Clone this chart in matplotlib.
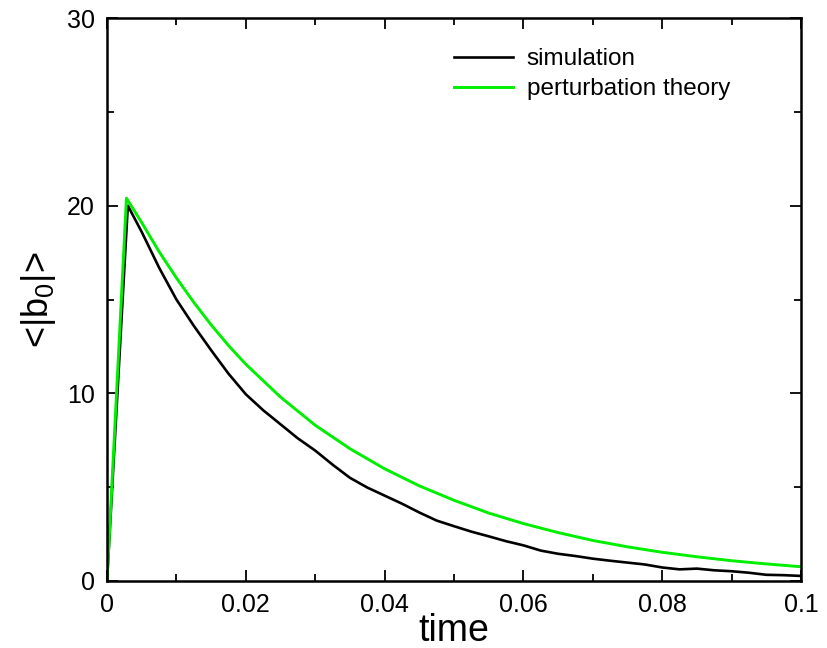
import matplotlib
matplotlib.use('Agg')
import matplotlib.pyplot as plt
from matplotlib.ticker import MultipleLocator

plt.rcParams['font.family'] = ['Liberation Sans', 'DejaVu Sans']
plt.rcParams['mathtext.fontset'] = 'custom'
plt.rcParams['mathtext.rm'] = 'Liberation Sans'
plt.rcParams['mathtext.it'] = 'Liberation Sans'

# simulation curve
t_sim = [0, 0.003, 0.005, 0.0075, 0.01, 0.0125, 0.015, 0.0175, 0.02, 0.0225,
         0.025, 0.0275, 0.03, 0.0325, 0.035, 0.0375, 0.04, 0.0425, 0.045, 0.0475,
         0.05, 0.0525, 0.055, 0.0575, 0.06, 0.0625, 0.065, 0.0675, 0.07, 0.0725,
         0.075, 0.0775, 0.08, 0.0825, 0.085, 0.0875, 0.09, 0.0925, 0.095, 0.0975, 0.1]
b_sim = [0, 20.0, 18.6, 16.7, 15.0, 13.6, 12.3, 11.05, 9.95, 9.1,
         8.35, 7.6, 6.95, 6.2, 5.5, 4.98, 4.55, 4.12, 3.65, 3.22,
         2.92, 2.63, 2.38, 2.12, 1.9, 1.62, 1.45, 1.33, 1.19, 1.08,
         0.98, 0.88, 0.72, 0.62, 0.66, 0.57, 0.52, 0.44, 0.33, 0.31, 0.27]

# perturbation theory curve
t_pt = [0, 0.0028, 0.005, 0.0075, 0.01, 0.0125, 0.015, 0.0175, 0.02, 0.025,
        0.03, 0.035, 0.04, 0.045, 0.05, 0.055, 0.06, 0.065, 0.07, 0.075,
        0.08, 0.085, 0.09, 0.095, 0.1]
b_pt = [0, 20.4, 19.1, 17.55, 16.15, 14.85, 13.65, 12.55, 11.55, 9.8,
        8.3, 7.05, 5.98, 5.07, 4.3, 3.62, 3.06, 2.58, 2.16, 1.82,
        1.53, 1.29, 1.08, 0.91, 0.76]

fig = plt.figure(figsize=(8.27, 6.48), dpi=100)
ax = fig.add_axes([0.1294, 0.1034, 0.8392, 0.8688])

ax.plot(t_sim, b_sim, color='black', lw=1.9, label='simulation')
ax.plot(t_pt, b_pt, color='#00ee00', lw=2.1, label='perturbation theory')

ax.set_xlim(0, 0.1)
ax.set_ylim(0, 30)
ax.xaxis.set_minor_locator(MultipleLocator(0.01))
ax.yaxis.set_major_locator(MultipleLocator(10))
ax.yaxis.set_minor_locator(MultipleLocator(5))
ax.set_xticks([0, 0.02, 0.04, 0.06, 0.08, 0.1])
ax.set_xticklabels(['0', '0.02', '0.04', '0.06', '0.08', '0.1'])
ax.tick_params(which='both', direction='in', top=True, right=True, width=1.3, labelsize=18)
ax.tick_params(which='major', length=8, pad=9)
ax.tick_params(which='minor', length=5)
for s in ax.spines.values():
    s.set_linewidth(1.8)

ax.set_xlabel('time', fontsize=27, labelpad=-3)
ax.set_ylabel(r'<|b$_0$|>', fontsize=26, labelpad=6)

ax.legend(loc='upper left', bbox_to_anchor=(0.468, 0.985), frameon=False, fontsize=17.5,
          handlelength=2.45, handletextpad=0.55, labelspacing=0.32)

fig.savefig('out.png', dpi=100)
